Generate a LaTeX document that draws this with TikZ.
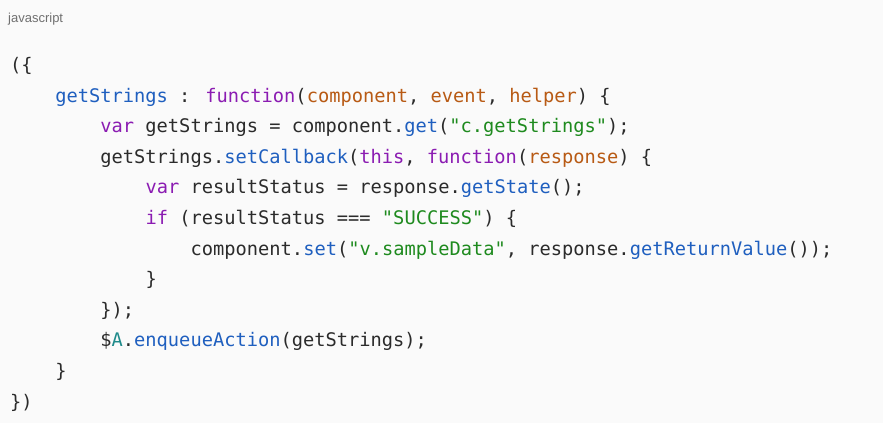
\documentclass[tikz,border=0pt]{standalone}
\usepackage{fontspec}
\setmainfont{Liberation Sans}
\newfontfamily\codefont{DejaVu Sans Mono}
\definecolor{bg}{HTML}{FAFAFA}
\definecolor{kw}{HTML}{8B1CB2}
\definecolor{fn}{HTML}{1F5FBF}
\definecolor{pa}{HTML}{B85A14}
\definecolor{st}{HTML}{1E8A1E}
\definecolor{tl}{HTML}{1E8A8A}
\definecolor{tx}{HTML}{2B2B2B}
\definecolor{lb}{HTML}{707070}
\newcommand{\K}[1]{\textcolor{kw}{#1}}
\newcommand{\F}[1]{\textcolor{fn}{#1}}
\newcommand{\Pa}[1]{\textcolor{pa}{#1}}
\newcommand{\St}[1]{\textcolor{st}{#1}}
\begin{document}
\begin{tikzpicture}[x=1pt,y=-1pt,
  code/.style={anchor=base west,inner sep=0pt,text=tx,font=\codefont\fontsize{18.7}{20}\selectfont}]
\useasboundingbox (0,0) rectangle (883,423);
\fill[bg] (0,0) rectangle (883,423);
\node[anchor=base west,inner sep=0pt,text=lb,font=\fontsize{13}{15}\selectfont] (lab) at (8,23) {javascript};
\def\cw{11.28}
\node[code] (l1) at (10,71.5) {(\{};
\node[code] (l2) at (10+4*\cw,102.1) {\F{getStrings} : \K{function}(\Pa{component}, \Pa{event}, \Pa{helper}) \{};
\node[code] (l3) at (10+8*\cw,132.7) {\K{var} getStrings = component.\F{get}(\St{"c.getStrings"});};
\node[code] (l4) at (10+8*\cw,163.3) {getStrings.\F{setCallback}(\K{this}, \K{function}(\Pa{response}) \{};
\node[code] (l5) at (10+12*\cw,193.9) {\K{var} resultStatus = response.\F{getState}();};
\node[code] (l6) at (10+12*\cw,224.5) {\K{if} (resultStatus === \St{"SUCCESS"}) \{};
\node[code] (l7) at (10+16*\cw,255.1) {component.\F{set}(\St{"v.sampleData"}, response.\F{getReturnValue}());};
\node[code] (l8) at (10+12*\cw,285.7) {\}};
\node[code] (l9) at (10+8*\cw,316.3) {\});};
\node[code] (l10) at (10+8*\cw,346.9) {\$\textcolor{tl}{A}.\F{enqueueAction}(getStrings);};
\node[code] (l11) at (10+4*\cw,377.5) {\}};
\node[code] (l12) at (10,408.1) {\})};
\end{tikzpicture}
\end{document}
